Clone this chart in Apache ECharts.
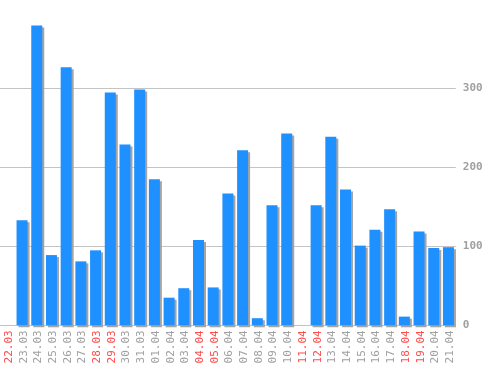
<!DOCTYPE html>
<html>
<head>
<meta charset="utf-8">
<script src="https://cdn.jsdelivr.net/npm/echarts@6/dist/echarts.min.js"></script>
<style>html,body{margin:0;padding:0;background:#fff;}#c{width:498px;height:370px;}</style>
</head>
<body>
<div id="c"></div>
<script>
var categories = ['22.03','23.03','24.03','25.03','26.03','27.03','28.03','29.03','30.03','31.03','01.04','02.04','03.04','04.04','05.04','06.04','07.04','08.04','09.04','10.04','11.04','12.04','13.04','14.04','15.04','16.04','17.04','18.04','19.04','20.04','21.04'];
var values = [0,133,380,89,327,81,95,295,229,299,185,35,47,108,48,167,222,9,152,243,0,152,239,172,101,121,147,11,119,98,99];
var redLabels = ['22.03','28.03','29.03','04.04','05.04','11.04','12.04','18.04','19.04'];
var yTicks = [0,100,200,300];

var chart = echarts.init(document.getElementById('c'), null, {renderer:'canvas'});
var labelData = categories.map(function(c){
  return redLabels.indexOf(c) >= 0 ? {value:c, textStyle:{color:'#ff4d4d'}} : {value:c};
});
chart.setOption({
  animation:false,
  backgroundColor:'#ffffff',
  grid:[
    {left:-2.7, right:42.2, top:9.7, bottom:44.7},
    {left:1.6, right:40.6, top:9.7, bottom:44.7}
  ],
  xAxis:[
    {gridIndex:0, type:'category', data:categories, axisLine:{show:false}, axisTick:{show:false}, axisLabel:{show:false}, splitLine:{show:false}},
    {gridIndex:1, type:'category', data:labelData, axisLine:{show:false}, axisTick:{show:false}, splitLine:{show:false},
      axisLabel:{rotate:90, margin:5, interval:0, fontFamily:'DejaVu Sans Mono', fontSize:11, color:'#a0a0a0'}}
  ],
  yAxis:[
    {gridIndex:0, type:'value', position:'right', min:0, max:400, interval:100,
      axisLine:{show:false}, axisTick:{show:false},
      axisLabel:{margin:7, fontFamily:'DejaVu Sans Mono', fontSize:11, color:'#a0a0a0', fontWeight:'bold',
        formatter:function(v){ return yTicks.indexOf(v) >= 0 ? String(v) : ''; }},
      splitLine:{lineStyle:{color:['#c4c4c4','#c4c4c4','#c4c4c4','#c4c4c4','rgba(0,0,0,0)'], width:1}}},
    {gridIndex:1, type:'value', show:false}
  ],
  series:[{
    type:'bar', xAxisIndex:0, yAxisIndex:0, data:values, barWidth:11,
    itemStyle:{color:'#1e90ff', shadowColor:'#a4a4a4', shadowOffsetX:2, shadowOffsetY:2, shadowBlur:0}
  }]
});
</script>
</body>
</html>
